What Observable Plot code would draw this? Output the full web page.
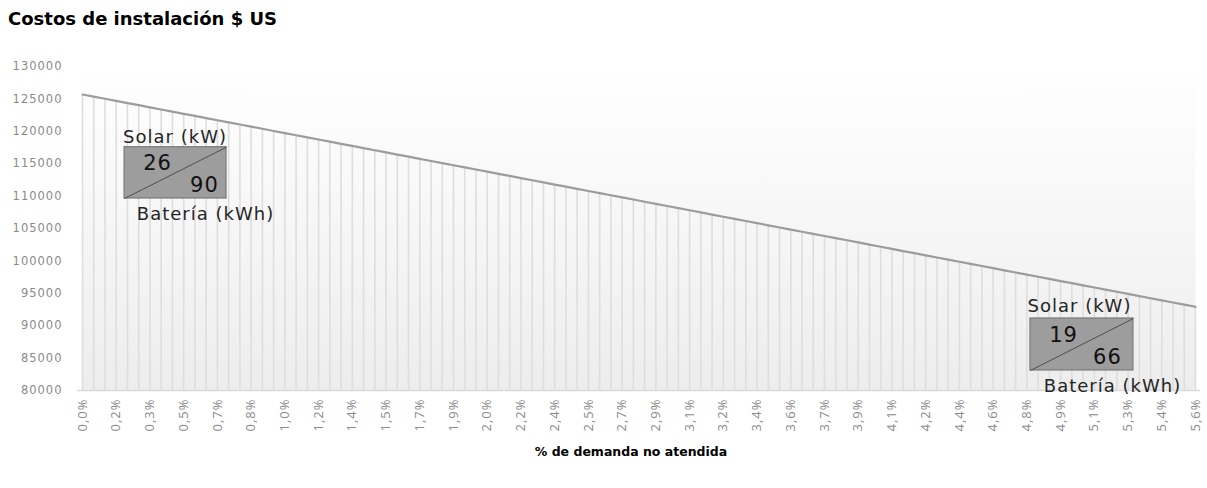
<!DOCTYPE html>
<html>
<head>
<meta charset="utf-8">
<script src="https://cdn.jsdelivr.net/npm/d3@7"></script>
<script src="https://cdn.jsdelivr.net/npm/@observablehq/plot@0.6"></script>
<style>
  html, body { margin: 0; padding: 0; background: #ffffff; }
  #wrap { position: relative; width: 1207px; height: 488px; }
  #title { position: absolute; left: 8px; top: 10px; font: bold 18px "DejaVu Sans"; color: #000; white-space: nowrap; line-height: 18px; }
  #xtitle { position: absolute; left: 631px; top: 451px; transform: translate(-50%, -50%); font: bold 12.5px "DejaVu Sans"; color: #000; white-space: nowrap; }
  svg { letter-spacing: 1px; }
</style>
</head>
<body>
<div id="wrap">
  <div id="chart"></div>
  <div id="title">Costos de instalación $ US</div>
  <div id="xtitle">% de demanda no atendida</div>
</div>
<script>
// Installation cost (US$) for each of the 100 simulated cases
const costs = [
  125680,125350,125020,124690,124360,124030,123690,123360,123030,122700,
  122370,122040,121710,121380,121050,120720,120390,120050,119720,119390,
  119060,118730,118400,118070,117740,117410,117080,116750,116410,116080,
  115750,115420,115090,114760,114430,114100,113770,113440,113110,112770,
  112440,112110,111780,111450,111120,110790,110460,110130,109800,109470,
  109130,108800,108470,108140,107810,107480,107150,106820,106490,106160,
  105830,105490,105160,104830,104500,104170,103840,103510,103180,102850,
  102520,102190,101850,101520,101190,100860,100530,100200,99870,99540,
  99210,98880,98550,98210,97880,97550,97220,96890,96560,96230,
  95900,95570,95240,94910,94570,94240,93910,93580,93250,92920
];
// Tick labels shown on every third case
const tickLabels = ["0,0%","0,2%","0,3%","0,5%","0,7%","0,8%","1,0%","1,2%","1,4%","1,5%",
  "1,7%","1,9%","2,0%","2,2%","2,4%","2,5%","2,7%","2,9%","3,1%","3,2%",
  "3,4%","3,6%","3,7%","3,9%","4,1%","4,2%","4,4%","4,6%","4,8%","4,9%",
  "5,1%","5,3%","5,4%","5,6%"];
const yTicks = [80000,85000,90000,95000,100000,105000,110000,115000,120000,125000,130000];
// Annotation values
const solarKW = [26, 19];
const batteryKWh = [90, 66];

const data = costs.map((c, i) => ({i, cost: c}));
const xTickIdx = tickLabels.map((_, k) => k * 3);

// Annotation boxes, placed in data coordinates (case index, cost)
const boxes = [
  {x1: 3.74, x2: 12.81, y1: 109630, y2: 117550, sx: 8.23, sy: 119050, nx1: 6.67, ny1: 115100, nx2: 10.85, ny2: 111640, bx: 10.94, by: 107160, solar: solarKW[0], battery: batteryKWh[0]},
  {x1: 84.32, x2: 93.48, y1: 83090, y2: 91110, sx: 88.68, sy: 92960, nx1: 87.26, ny1: 88570, nx2: 91.17, ny2: 85170, bx: 91.62, by: 80620, solar: solarKW[1], battery: batteryKWh[1]}
];

const chart = Plot.plot({
  width: 1207,
  height: 488,
  marginLeft: 82,
  marginRight: 12,
  marginTop: 66,
  marginBottom: 98,
  style: {fontFamily: "DejaVu Sans", background: "transparent", overflow: "visible"},
  x: {domain: [0, 99]},
  y: {domain: [80000, 130000]},
  marks: [
    Plot.frame({fill: "url(#plotbg)", stroke: "none"}),
    Plot.ruleX(data, {x: "i", y1: 80000, y2: "cost", stroke: "#dedede", strokeWidth: 1.6}),
    Plot.ruleY([80000], {stroke: "#d9d9d9", strokeWidth: 1.5, insetLeft: -5, insetRight: -5}),
    Plot.lineY(data, {x: "i", y: "cost", stroke: "#9c9c9c", strokeWidth: 2.2}),
    Plot.axisY({ticks: yTicks, tickSize: 0, tickPadding: 20, tickFormat: d => String(d), fill: "#8a8a8a", fontSize: 11.5, label: null}),
    Plot.axisX({ticks: xTickIdx, tickSize: 0, tickPadding: 8, tickRotate: -90, tickFormat: i => tickLabels[i / 3], fill: "#8a8a8a", fontSize: 13, fontFamily: "Open Sans", label: null}),
    Plot.rect(boxes, {x1: "x1", x2: "x2", y1: "y1", y2: "y2", fill: "#9d9d9d", stroke: "#7a7a7a", strokeWidth: 1.2}),
    Plot.link(boxes, {x1: "x1", y1: "y1", x2: "x2", y2: "y2", stroke: "#4d4d4d", strokeWidth: 1}),
    Plot.text(boxes, {x: "sx", y: "sy", text: () => "Solar (kW)", fontSize: 18, fill: "#262626"}),
    Plot.text(boxes, {x: "bx", y: "by", text: () => "Batería (kWh)", fontSize: 18, fill: "#262626"}),
    Plot.text(boxes, {x: "nx1", y: "ny1", text: d => String(d.solar), fontSize: 21, fill: "#111"}),
    Plot.text(boxes, {x: "nx2", y: "ny2", text: d => String(d.battery), fontSize: 21, fill: "#111"})
  ]
});

const ns = "http://www.w3.org/2000/svg";
const defs = document.createElementNS(ns, "defs");
defs.innerHTML = '<linearGradient id="plotbg" x1="0" y1="0" x2="0" y2="1"><stop offset="0" stop-color="#ffffff"/><stop offset="1" stop-color="#ededed"/></linearGradient>';
chart.insertBefore(defs, chart.firstChild);
document.getElementById("chart").appendChild(chart);
</script>
</body>
</html>
